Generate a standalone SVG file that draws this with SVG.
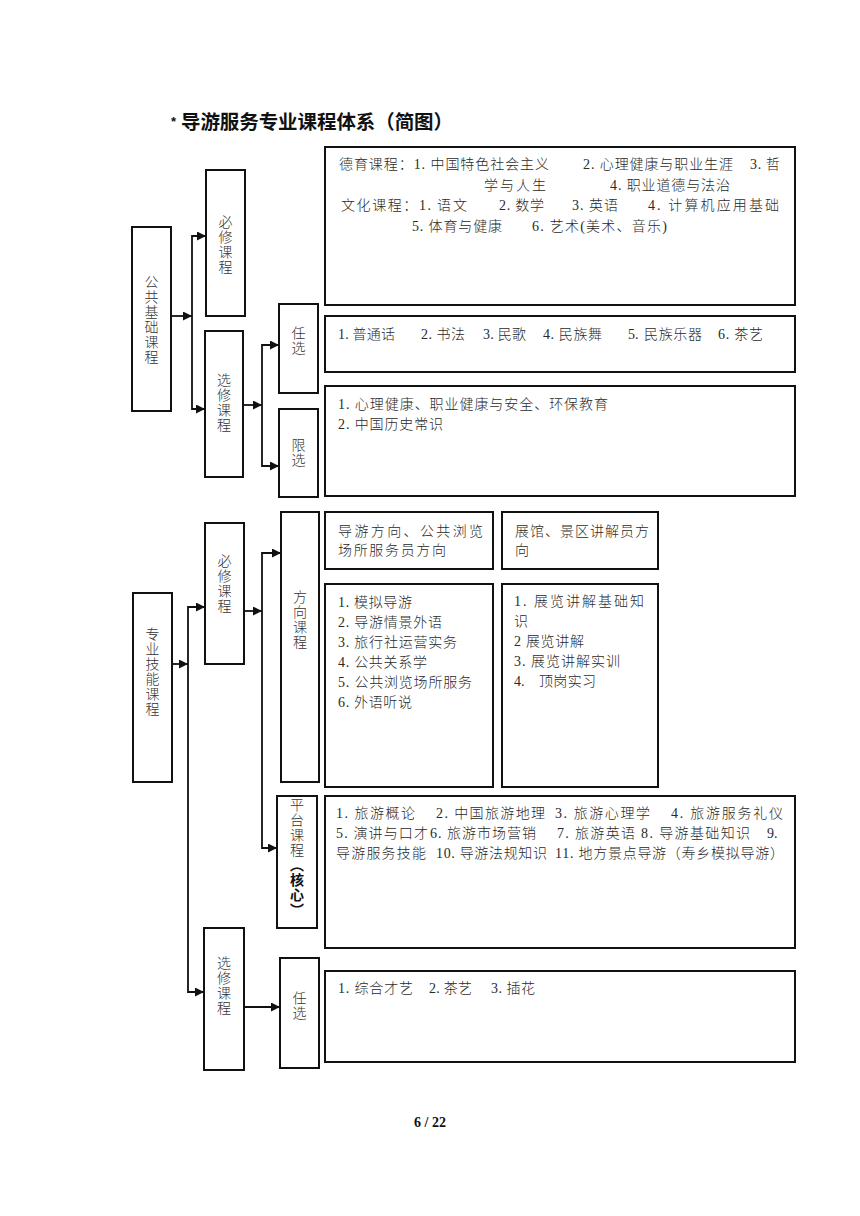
<svg xmlns="http://www.w3.org/2000/svg" width="860" height="1216" viewBox="0 0 860 1216">
<style>
.box{fill:#fff;stroke:#111;stroke-width:2}
.t{font-family:"Liberation Serif","Noto Sans CJK SC",serif;font-size:14px;font-weight:300;fill:#2a2a2a}
.v{font-family:"Noto Sans CJK SC",sans-serif;font-size:14px;font-weight:300;fill:#333;writing-mode:vertical-rl;letter-spacing:1px}
.c{fill:none;stroke:#111;stroke-width:1.8;marker-end:url(#ah)}
</style>
<defs>
<marker id="ah" markerUnits="userSpaceOnUse" markerWidth="10" markerHeight="10" refX="9" refY="4.5" orient="auto">
<path d="M0,0 L9,4.5 L0,9 z" fill="#111"/>
</marker>
</defs>
<rect width="860" height="1216" fill="#fff"/>

<g id="title">
<text x="171" y="126" font-family="Liberation Sans, sans-serif" font-size="13" font-weight="bold" fill="#111">*</text>
<text x="181" y="129" font-family="Noto Sans CJK SC, sans-serif" font-size="19.5" font-weight="bold" fill="#111" textLength="272">导游服务专业课程体系（简图）</text>
</g>

<g id="connectors">
<path class="c" d="M171,316 H192"/>
<path class="c" d="M192,316 V236 H206"/>
<path class="c" d="M192,316 V409 H205"/>
<path class="c" d="M243,405 H262"/>
<path class="c" d="M262,405 V345 H279"/>
<path class="c" d="M262,405 V466 H279"/>
<path class="c" d="M172,664 H188"/>
<path class="c" d="M188,664 V607 H205"/>
<path class="c" d="M188,664 V992 H204"/>
<path class="c" d="M244,611 H262"/>
<path class="c" d="M262,611 V553 H281"/>
<path class="c" d="M262,611 V848 H277"/>
<path class="c" d="M244,1007 H280"/>
</g>

<g id="gonggong">
<rect class="box" x="132" y="227" width="39" height="184"/>
<text class="v" x="151.5" y="275">公共基础课程</text>
</g>

<g id="bixiu1">
<rect class="box" x="206" y="170" width="39" height="146"/>
<text class="v" x="225.5" y="215">必修课程</text>
</g>

<g id="xuanxiu1">
<rect class="box" x="205" y="331" width="38" height="146"/>
<text class="v" x="224" y="373">选修课程</text>
</g>

<g id="renxuan1">
<rect class="box" x="279" y="304" width="39" height="89"/>
<text class="v" x="298.5" y="326">任选</text>
</g>

<g id="xianxuan">
<rect class="box" x="279" y="409" width="39" height="88"/>
<text class="v" x="298.5" y="438">限选</text>
</g>

<g id="deyu">
<rect class="box" x="325" y="147" width="470" height="158"/>
<text class="t" x="339" y="169" textLength="210">德育课程：1. 中国特色社会主义</text>
<text class="t" x="583" y="169" textLength="150">2. 心理健康与职业生涯</text>
<text class="t" x="750" y="169" textLength="30">3. 哲</text>
<text class="t" x="484" y="189.5" textLength="62">学与人生</text>
<text class="t" x="610" y="189.5" textLength="120">4. 职业道德与法治</text>
<text class="t" x="341" y="210" textLength="90">文化课程：1.</text>
<text class="t" x="437" y="210" textLength="30">语文</text>
<text class="t" x="499" y="210" textLength="45">2. 数学</text>
<text class="t" x="572" y="210" textLength="46">3. 英语</text>
<text class="t" x="648" y="210" textLength="131">4. 计算机应用基础</text>
<text class="t" x="412" y="230.5" textLength="90">5. 体育与健康</text>
<text class="t" x="532" y="230.5" textLength="135">6. 艺术(美术、音乐)</text>
</g>

<g id="renxuan1-content">
<rect class="box" x="325" y="316" width="470" height="56"/>
<text class="t" x="338" y="338.5" textLength="57">1. 普通话</text>
<text class="t" x="421" y="338.5" textLength="44">2. 书法</text>
<text class="t" x="483" y="338.5" textLength="43">3. 民歌</text>
<text class="t" x="543" y="338.5" textLength="59">4. 民族舞</text>
<text class="t" x="628" y="338.5">5.</text>
<text class="t" x="644" y="338.5" textLength="58">民族乐器</text>
<text class="t" x="718" y="338.5" textLength="45">6. 茶艺</text>
</g>

<g id="xianxuan-content">
<rect class="box" x="325" y="386" width="470" height="110"/>
<text class="t" x="338" y="409" textLength="270">1. 心理健康、职业健康与安全、环保教育</text>
<text class="t" x="338" y="429" textLength="105">2. 中国历史常识</text>
</g>

<g id="zhuanye">
<rect class="box" x="133" y="593" width="39" height="189"/>
<text class="v" x="152.5" y="627" letter-spacing="2">专业技能课程</text>
</g>

<g id="bixiu2">
<rect class="box" x="205" y="523" width="39" height="141"/>
<text class="v" x="224.5" y="554">必修课程</text>
</g>

<g id="fangxiang">
<rect class="box" x="281" y="512" width="38" height="270"/>
<text class="v" x="300" y="590">方向课程</text>
</g>

<g id="header1">
<rect class="box" x="325" y="512" width="168" height="57"/>
<text class="t" x="338" y="535.5" textLength="145">导游方向、公共浏览</text>
<text class="t" x="338" y="554.5" textLength="108">场所服务员方向</text>
</g>

<g id="header2">
<rect class="box" x="502" y="512" width="156" height="57"/>
<text class="t" x="515" y="535.5" textLength="134">展馆、景区讲解员方</text>
<text class="t" x="515" y="554.5">向</text>
</g>

<g id="list1">
<rect class="box" x="325" y="584" width="168" height="203"/>
<text class="t" x="338" y="607" textLength="74">1. 模拟导游</text>
<text class="t" x="338" y="627" textLength="104">2. 导游情景外语</text>
<text class="t" x="338" y="647" textLength="119">3. 旅行社运营实务</text>
<text class="t" x="338" y="667" textLength="89">4. 公共关系学</text>
<text class="t" x="338" y="687" textLength="134">5. 公共浏览场所服务</text>
<text class="t" x="338" y="707" textLength="74">6. 外语听说</text>
</g>

<g id="list2">
<rect class="box" x="502" y="584" width="156" height="203"/>
<text class="t" x="514" y="606" textLength="130">1. 展览讲解基础知</text>
<text class="t" x="514" y="626">识</text>
<text class="t" x="514" y="646" textLength="70">2 展览讲解</text>
<text class="t" x="514" y="666" textLength="106">3. 展览讲解实训</text>
<text class="t" x="514" y="686">4.</text>
<text class="t" x="539" y="686" textLength="57">顶岗实习</text>
</g>

<g id="pingtai">
<rect class="box" x="277" y="796" width="40" height="132"/>
<text class="v" x="297" y="798">平台课程<tspan font-weight="bold" fill="#111">（核心）</tspan></text>
</g>

<g id="pingtai-content">
<rect class="box" x="325" y="796" width="470" height="152"/>
<text class="t" x="336" y="818" textLength="79">1. 旅游概论</text>
<text class="t" x="436" y="818" textLength="109">2. 中国旅游地理</text>
<text class="t" x="555" y="818" textLength="95">3. 旅游心理学</text>
<text class="t" x="671" y="818" textLength="112">4. 旅游服务礼仪</text>
<text class="t" x="336" y="838" textLength="92">5. 演讲与口才</text>
<text class="t" x="430" y="838" textLength="106">6. 旅游市场营销</text>
<text class="t" x="557" y="838" textLength="78">7. 旅游英语</text>
<text class="t" x="641" y="838" textLength="109">8. 导游基础知识</text>
<text class="t" x="767" y="838">9.</text>
<text class="t" x="336" y="858" textLength="90">导游服务技能</text>
<text class="t" x="436" y="858" textLength="111">10. 导游法规知识</text>
<text class="t" x="555" y="858" textLength="229">11. 地方景点导游（寿乡模拟导游）</text>
</g>

<g id="xuanxiu2">
<rect class="box" x="204" y="928" width="40" height="142"/>
<text class="v" x="224" y="956">选修课程</text>
</g>

<g id="renxuan2">
<rect class="box" x="280" y="958" width="39" height="110"/>
<text class="v" x="299.5" y="991">任选</text>
</g>

<g id="renxuan2-content">
<rect class="box" x="325" y="971" width="470" height="91"/>
<text class="t" x="338" y="993" textLength="75">1. 综合才艺</text>
<text class="t" x="429" y="993" textLength="43">2. 茶艺</text>
<text class="t" x="491" y="993" textLength="44">3. 插花</text>
</g>

<g id="page">
<text x="430" y="1127" font-family="Liberation Serif, serif" font-size="14" font-weight="bold" fill="#111" text-anchor="middle">6 / 22</text>
</g>
</svg>
